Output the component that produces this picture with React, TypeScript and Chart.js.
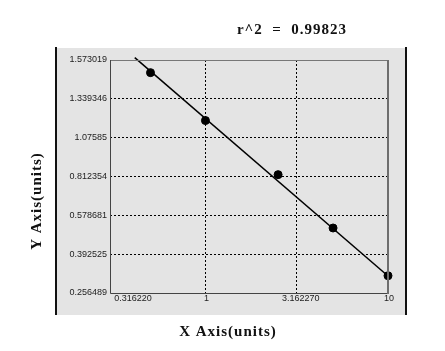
import React, { useEffect, useRef } from "react";
import { Chart, registerables } from "chart.js";

Chart.register(...registerables);

// ---- data ----
const xValues = [0.5, 1, 2.5, 5, 10];
const yValues = [1.497, 1.192, 0.825, 0.518, 0.317];
const fitX = [0.41, 10];
const fitY = [1.5875, 0.316];
const xTickValues = [0.31622, 1, 3.16227, 10];
const xTickLabels = ["0.316220", "1", "3.162270", "10"];
const yTickValues = [1.573019, 1.339346, 1.07585, 0.812354, 0.578681, 0.392525, 0.256489];
const yTickLabels = ["1.573019", "1.339346", "1.07585", "0.812354", "0.578681", "0.392525", "0.256489"];
const titleText = "r^2  =  0.99823";
const xTitle = "X Axis(units)";
const yTitle = "Y Axis(units)";

// piecewise mapping from value to tick-index position on the y axis
function toAxis(v: number): number {
  const t = yTickValues;
  const n = t.length;
  let i = 0;
  if (v >= t[0]) i = 0;
  else if (v <= t[n - 1]) i = n - 2;
  else {
    for (let k = 0; k < n - 1; k++) {
      if (v <= t[k] && v >= t[k + 1]) { i = k; break; }
    }
  }
  return i + (t[i] - v) / (t[i] - t[i + 1]);
}

const panelPlugin = {
  id: "panelDeco",
  beforeDraw(chart: any) {
    const ctx = chart.ctx;
    ctx.save();
    ctx.fillStyle = "#ffffff";
    ctx.fillRect(0, 0, chart.width, chart.height);
    ctx.fillStyle = "#e4e4e4";
    ctx.fillRect(56, 48, 350, 267);
    ctx.fillStyle = "#111";
    ctx.fillRect(55, 47, 2, 268);
    ctx.fillRect(405, 47, 2, 268);
    ctx.restore();
  },
  afterDraw(chart: any) {
    const ctx = chart.ctx;
    const a = chart.chartArea;
    const xs = chart.scales.x;
    ctx.save();
    // plot border
    ctx.strokeStyle = "#777";
    ctx.lineWidth = 1;
    ctx.beginPath();
    ctx.moveTo(a.left, a.top + 0.5);
    ctx.lineTo(a.right, a.top + 0.5);
    ctx.stroke();
    ctx.strokeStyle = "#444";
    ctx.beginPath();
    ctx.moveTo(a.left + 0.5, a.top);
    ctx.lineTo(a.left + 0.5, a.bottom + 0.5);
    ctx.lineTo(a.right, a.bottom + 0.5);
    ctx.stroke();
    ctx.strokeStyle = "#6e6e6e";
    ctx.lineWidth = 2;
    ctx.beginPath();
    ctx.moveTo(a.right, a.top);
    ctx.lineTo(a.right, a.bottom + 1);
    ctx.stroke();

    // x tick labels
    ctx.fillStyle = "#222";
    ctx.font = "9px 'Liberation Sans', Arial, sans-serif";
    ctx.textBaseline = "top";
    xTickValues.forEach((v, i) => {
      const px = xs.getPixelForValue(v);
      ctx.textAlign = i === 0 ? "left" : "center";
      ctx.fillText(xTickLabels[i], i === 0 ? px : px + (i === 2 ? 4 : 1), a.bottom + 1);
    });

    // titles
    ctx.fillStyle = "#111";
    ctx.font = "bold 15px 'Liberation Serif', 'Times New Roman', serif";
    (ctx as any).letterSpacing = "1px";
    ctx.textAlign = "center";
    ctx.textBaseline = "middle";
    ctx.fillText(titleText, 292, 30);
    ctx.fillText(xTitle, 228, 332);
    ctx.save();
    ctx.translate(37, 201);
    ctx.rotate(-Math.PI / 2);
    ctx.fillText(yTitle, 0, 0);
    ctx.restore();
    ctx.restore();
  },
};

export default function App() {
  const ref = useRef<HTMLCanvasElement | null>(null);
  useEffect(() => {
    document.body.style.margin = "0";
    const canvas = ref.current;
    if (!canvas) return;
    const gridColor = (n: number) => (c: any) =>
      c.index === 0 || c.index === n - 1 ? "rgba(0,0,0,0)" : "#000";
    const chart = new Chart(canvas, {
      type: "scatter",
      data: {
        datasets: [
          {
            type: "line",
            label: "fit",
            data: fitX.map((x, i) => ({ x, y: toAxis(fitY[i]) })),
            borderColor: "#000",
            borderWidth: 1.5,
            pointRadius: 0,
            fill: false,
            clip: 4,
            order: 2,
          } as any,
          {
            type: "scatter",
            label: "points",
            data: xValues.map((x, i) => ({ x, y: toAxis(yValues[i]) })),
            backgroundColor: "#000",
            borderColor: "#000",
            pointRadius: 4,
            pointHoverRadius: 4,
            clip: false,
            order: 1,
          } as any,
        ],
      },
      options: {
        responsive: false,
        animation: false,
        events: [],
        layout: { padding: { left: 0, top: 60, right: 57, bottom: 58 } },
        plugins: { legend: { display: false }, title: { display: false }, tooltip: { enabled: false } },
        scales: {
          x: {
            type: "logarithmic",
            min: 0.31622,
            max: 10,
            afterBuildTicks: (s: any) => {
              s.ticks = xTickValues.map((v) => ({ value: v }));
            },
            afterFit: (s: any) => {
              s.height = 0;
            },
            ticks: { display: false },
            border: { display: false, dash: [2, 2] },
            grid: {
              drawTicks: false,
              lineWidth: 1,
              color: gridColor(xTickValues.length),
            } as any,
          },
          y: {
            type: "linear",
            reverse: true,
            min: 0,
            max: yTickValues.length - 1,
            afterBuildTicks: (s: any) => {
              s.ticks = yTickValues.map((_, i) => ({ value: i }));
            },
            afterFit: (s: any) => {
              s.width = 110;
            },
            ticks: {
              padding: 3,
              color: "#222",
              font: { family: "'Liberation Sans', Arial, sans-serif", size: 9 },
              callback: (v: any) => yTickLabels[Math.round(Number(v))],
            },
            border: { display: false, dash: [2, 2] },
            grid: {
              drawTicks: false,
              lineWidth: 1,
              color: gridColor(yTickValues.length),
            } as any,
          },
        },
      },
      plugins: [panelPlugin],
    });
    return () => chart.destroy();
  }, []);
  return (
    <div style={{ position: "absolute", left: 0, top: 0, width: 445, height: 351 }}>
      <canvas ref={ref} width={445} height={351} />
    </div>
  );
}
